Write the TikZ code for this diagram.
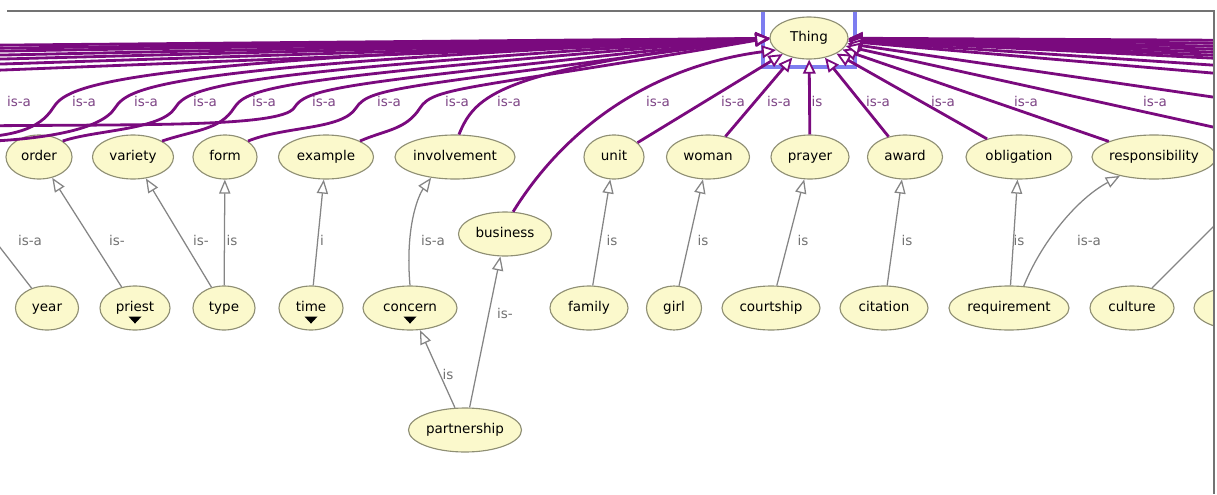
\documentclass[tikz,border=0pt]{standalone}
\usepackage{fontspec}
\setmainfont{DejaVu Sans}
\usetikzlibrary{arrows.meta, shapes.geometric}
\definecolor{isapurple}{HTML}{7A0A7E}
\definecolor{isatext}{HTML}{7D4485}
\definecolor{subgray}{HTML}{858585}
\definecolor{conceptfill}{HTML}{FBF9CC}
\definecolor{conceptline}{HTML}{8F8F74}
\definecolor{selblue}{HTML}{7D7DF0}

\begin{document}
\begin{tikzpicture}[
      x=0.025cm, y=-0.025cm,
      font=\fontsize{9.6}{11}\selectfont,
      concept/.style={
                  ellipse, draw=conceptline, fill=conceptfill, line width=0.8pt,
                  minimum height=1.1cm, inner xsep=-2pt, inner ysep=0pt,
                  text height=7pt, text depth=2pt
            },
      isa/.style={draw=isapurple, line width=2pt,
                  -{Triangle[fill=white, length=10pt, width=9pt, line width=1.3pt]}},
      sub/.style={draw=subgray, line width=0.9pt,
                  -{Triangle[fill=white, length=10pt, width=8pt]}},
      isalbl/.style={text=isatext},
      sublbl/.style={text=subgray!85!black},
      selbox/.style={draw=selblue, line width=2.2pt},
      frame/.style={draw=black!55, line width=0.8pt},
]
\useasboundingbox (0,0) rectangle (1217,494);
\begin{scope}
\clip (0,11) rectangle (1214,494);

% selection around the root
\draw[selbox] (763,-25) rectangle (855,67);

% root
\node[concept, minimum width=1.95cm, minimum height=1.05cm] (Thing) at (809,38) {Thing};

% first level
\node[concept, minimum width=1.65cm]  (order)          at (39,157)   {order};
\node[concept, minimum width=2.025cm] (variety)        at (133,157)  {variety};
\node[concept, minimum width=1.6cm]   (form)           at (225,157)  {form};
\node[concept, minimum width=2.375cm] (example)        at (326,157)  {example};
\node[concept, minimum width=3cm]     (involvement)    at (455,157)  {involvement};
\node[concept, minimum width=1.5cm]   (unit)           at (614,157)  {unit};
\node[concept, minimum width=2.075cm] (woman)          at (708,157)  {woman};
\node[concept, minimum width=1.95cm]  (prayer)         at (810,157)  {prayer};
\node[concept, minimum width=1.875cm] (award)          at (905,157)  {award};
\node[concept, minimum width=2.65cm]  (obligation)     at (1019,157) {obligation};
\node[concept, minimum width=3.1cm]   (responsibility) at (1154,157) {responsibility};
\node[concept, minimum width=2.325cm] (business)       at (505,234)  {business};

% second level
\node[concept, minimum width=1.575cm] (year)        at (47,308)   {year};
\node[concept, minimum width=1.75cm]  (priest)      at (135,308)  {priest};
\node[concept, minimum width=1.55cm]  (type)        at (224,308)  {type};
\node[concept, minimum width=1.6cm]   (time)        at (311,308)  {time};
\node[concept, minimum width=2.35cm]  (concern)     at (410,308)  {concern};
\node[concept, minimum width=1.95cm]  (family)      at (589,308)  {family};
\node[concept, minimum width=1.375cm] (girl)        at (674,308)  {girl};
\node[concept, minimum width=2.45cm]  (courtship)   at (771,308)  {courtship};
\node[concept, minimum width=2.2cm]   (citation)    at (884,308)  {citation};
\node[concept, minimum width=3cm]     (requirement) at (1009,308) {requirement};
\node[concept, minimum width=2.1cm]   (culture)     at (1132,308) {culture};
\node[concept, minimum width=2.4cm]   (cutoff)      at (1242,308) {};
\node[concept, minimum width=2.825cm] (partnership) at (465,430)  {partnership};

% collapsed markers
\foreach \n in {priest,time,concern}
      \fill ([shift={(-6.5,-14)}]\n.south) -- ++(13,0) -- ++(-6.5,7) -- cycle;

% ends outside the view
\coordinate (westyear)    at (-60,170);
\coordinate (eastculture) at (1262,178);
\coordinate (westA) at (-30,138);
\coordinate (westB) at (-30,142);
\coordinate (westC) at (-30,126);

% is-a to Thing, left side
\foreach \y [count=\i] in {46,49.4,52.7,57.2,61.7,67.3,74.1} {
      \coordinate (westend\i) at (-100,\y);
      \draw[isa] (westend\i) -- (Thing);
}
\draw[isa] (westA) .. controls (12,136) and (39,130) .. (53,108)
      .. controls (67,86) and (103,60) .. (Thing.west);
\draw[isa] (westB) .. controls (43,140) and (101,130) .. (115,108)
      .. controls (129,86) and (165,66) .. (Thing.west);
\draw[isa] (order.north east) .. controls (95,130) and (161,130) .. (175,108)
      .. controls (189,86) and (225,72) .. (Thing.west);
\draw[isa] (variety.north east) .. controls (195,130) and (220,130) .. (234,108)
      .. controls (248,86) and (284,78) .. (Thing.west);
\draw[isa] (westC) .. controls (130,124) and (280,128) .. (294,108)
      .. controls (308,86) and (344,84) .. (Thing.west);
\draw[isa] (form.north east) .. controls (285,126) and (342,130) .. (356,108)
      .. controls (370,86) and (406,88) .. (Thing.west);
\draw[isa] (example.north east) .. controls (385,130) and (406,130) .. (420,108)
      .. controls (434,86) and (470,90) .. (Thing.west);
\draw[isa] (involvement.80) .. controls (475,95) and (500,70) .. (Thing.west);
\draw[isa] (business.70) .. controls (570,120) and (660,65) .. (Thing.200);
\draw[isa] (unit) -- (Thing);
\draw[isa] (woman) -- (Thing);
\draw[isa] (prayer) -- (Thing);

% is-a to Thing, right side
\draw[isa] (award) -- (Thing);
\draw[isa] (obligation) -- (Thing);
\draw[isa] (responsibility) -- (Thing);
\foreach \y [count=\i] in {40.8,44.6,48.4,52.1,55.9,59.7,63.5,72.3,82.4,112.7,150.6} {
      \coordinate (eastend\i) at (1320,\y);
      \draw[isa] (eastend\i) -- (Thing);
}

% is-a between the levels
\draw[sub] (year) -- (westyear);
\draw[sub] (priest) -- (order);
\draw[sub] (type) -- (variety);
\draw[sub] (type) -- (form);
\draw[sub] (time) -- (example);
\draw[sub] (concern.north) .. controls (405,228) and (418,196) .. (involvement.221);
\draw[sub] (partnership) -- (concern);
\draw[sub] (partnership) -- (business);
\draw[sub] (family) -- (unit);
\draw[sub] (girl) -- (woman);
\draw[sub] (courtship) -- (prayer);
\draw[sub] (citation) -- (award);
\draw[sub] (requirement) -- (obligation);
\draw[sub] (requirement.56) .. controls (1040,245) and (1075,200) .. (responsibility.209);
\draw[sub] (culture) -- (eastculture);

% labels
\foreach \x/\t [count=\i] in {19/is-a,84/is-a,146/is-a,205/is-a,264/is-a,324/is-a,389/is-a,
            457/is-a,509/is-a,658/is-a,733/is-a,779/is-a,817/is,878/is-a,943/is-a,1026/is-a,1155/is-a}
      \node[isalbl] (isatag\i) at (\x,101) {\t};
\foreach \x/\y/\t [count=\i] in {30/240/is-a,117/240/is-,201/240/is-,232/240/is,322/240/i,
            433/240/is-a,612/240/is,703/240/is,803/240/is,907/240/is,1019/240/is,1089/240/is-a,
            448/374/is,505/313/is-}
      \node[sublbl] (subtag\i) at (\x,\y) {\t};
\end{scope}

\draw[frame] (7,11) -- (1214,11) -- (1214,494);
\end{tikzpicture}
\end{document}
